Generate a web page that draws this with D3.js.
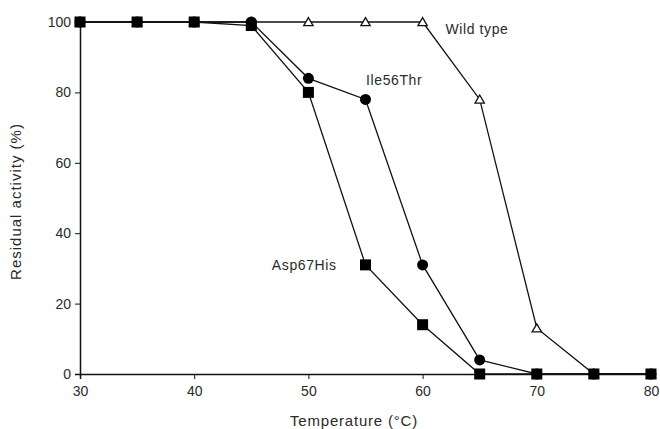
<!DOCTYPE html>
<html>
<head>
<meta charset="utf-8">
<script src="https://cdn.jsdelivr.net/npm/d3@7"></script>
<style>
  body { margin: 0; background: #fff; }
  text { font-family: "Liberation Sans", Arial, sans-serif; fill: #2a2a2a; }
</style>
</head>
<body>
<svg id="chart"></svg>
<script>
// temperatures (°C) and residual activity (%) for each enzyme
var temps     = [30, 35, 40, 45, 50, 55, 60, 65, 70, 75, 80];
var wildType  = [100, 100, 100, 100, 100, 100, 100, 78, 13, 0, 0];
var ile56Thr  = [100, 100, 100, 100, 84, 78, 31, 4, 0, 0, 0];
var asp67His  = [100, 100, 100, 99, 80, 31, 14, 0, 0, 0, 0];
var xTicks = [30, 40, 50, 60, 70, 80];
var yTicks = [0, 20, 40, 60, 80, 100];

var width = 660,
	height = 429,
	margin = {top: 22, right: 9, bottom: 55, left: 80};

var svg = d3.select("#chart")
	.attr("width", width)
	.attr("height", height);

var x = d3.scaleLinear().domain([30, 80]).range([margin.left, width - margin.right]);
var y = d3.scaleLinear().domain([0, 100]).range([height - margin.bottom, margin.top]);

var line = d3.line()
	.x(function(d) { return x(d[0]); })
	.y(function(d) { return y(d[1]); });

function pairs(vals) {
	return temps.map(function(t, i) { return [t, vals[i]]; });
}

/* ------- AXES -------*/
var xAxis = svg.append("g")
	.attr("transform", "translate(0," + y(0) + ")")
	.call(d3.axisBottom(x).tickValues(xTicks).tickSize(5).tickPadding(7));
var yAxis = svg.append("g")
	.attr("transform", "translate(" + x(30) + ",0)")
	.call(d3.axisLeft(y).tickValues(yTicks).tickSize(5).tickPadding(4));

[xAxis, yAxis].forEach(function(a) {
	a.select(".domain").attr("stroke", "#111").attr("stroke-width", 1.5);
	a.selectAll(".tick line").attr("stroke", "#111");
	a.selectAll("text")
		.style("font-size", "14px")
		.style("font-family", "Liberation Sans, Arial, sans-serif")
		.attr("fill", "#2a2a2a");
});

svg.append("text")
	.attr("x", 354)
	.attr("y", 426)
	.attr("text-anchor", "middle")
	.style("font-size", "15px")
	.style("letter-spacing", "0.8px")
	.text("Temperature (°C)");

svg.append("text")
	.attr("transform", "translate(21," + y(49) + ") rotate(-90)")
	.attr("text-anchor", "middle")
	.style("font-size", "15px")
	.style("letter-spacing", "1px")
	.text("Residual activity (%)");

/* ------- LINES -------*/
[wildType, ile56Thr, asp67His].forEach(function(vals) {
	svg.append("path")
		.datum(pairs(vals))
		.attr("fill", "none")
		.attr("stroke", "#111")
		.attr("stroke-width", 1.3)
		.attr("d", line);
});

/* ------- MARKERS -------*/
svg.append("g").selectAll("path")
	.data(pairs(wildType))
	.enter().append("path")
	.attr("transform", function(d) { return "translate(" + x(d[0]) + "," + (y(d[1]) + 1) + ")"; })
	.attr("d", d3.symbol().type(d3.symbolTriangle).size(38))
	.attr("fill", "#fff")
	.attr("stroke", "#111")
	.attr("stroke-width", 1.3);

svg.append("g").selectAll("circle")
	.data(pairs(ile56Thr))
	.enter().append("circle")
	.attr("cx", function(d) { return x(d[0]); })
	.attr("cy", function(d) { return y(d[1]); })
	.attr("r", 5.5)
	.attr("fill", "#000");

svg.append("g").selectAll("rect")
	.data(pairs(asp67His))
	.enter().append("rect")
	.attr("x", function(d) { return x(d[0]) - 5.5; })
	.attr("y", function(d) { return y(d[1]) - 5.5; })
	.attr("width", 11)
	.attr("height", 11)
	.attr("fill", "#000");

/* ------- SERIES LABELS -------*/
var labels = [
	{text: "Wild type", t: 62.0, v: 96.6},
	{text: "Ile56Thr", t: 55.05, v: 82},
	{text: "Asp67His", t: 46.8, v: 29.5}
];
svg.append("g").selectAll("text")
	.data(labels)
	.enter().append("text")
	.attr("x", function(d) { return x(d.t); })
	.attr("y", function(d) { return y(d.v); })
	.style("font-size", "14px")
	.style("letter-spacing", "0.6px")
	.text(function(d) { return d.text; });
</script>
</body>
</html>
